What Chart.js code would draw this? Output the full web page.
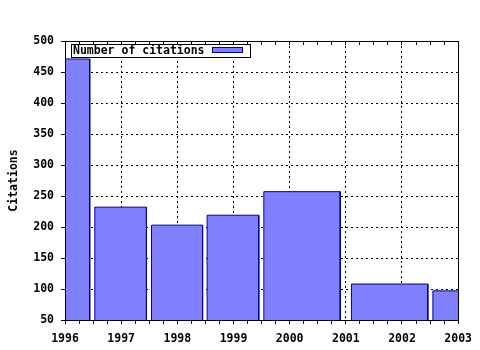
<!DOCTYPE html>
<html>
<head>
<meta charset="utf-8">
<script src="https://cdn.jsdelivr.net/npm/chart.js@4.4.0/dist/chart.umd.min.js"></script>
<style>
  html, body { margin: 0; padding: 0; background: #fff; }
</style>
</head>
<body>
<canvas id="mychart" width="480" height="350"></canvas>
<script>
// axis range and ticks
var years = [1996, 1997, 1998, 1999, 2000, 2001, 2002, 2003];
var yTicks = [50, 100, 150, 200, 250, 300, 350, 400, 450, 500];

// each bar: where it starts and ends on the year axis, and its height
var barStart = [1995.55, 1996.53, 1997.54, 1998.53, 1999.54, 2001.10, 2002.55];
var barEnd   = [1996.44, 1997.45, 1998.45, 1999.45, 2000.90, 2002.46, 2003.45];
var citations = [471, 232, 203, 219, 257, 108, 97];

var fillColor = '#8080ff';
var edgeColor = '#00008b';

Chart.defaults.font.family = "'DejaVu Sans Mono', monospace";
Chart.defaults.font.size = 11.5;
Chart.defaults.font.weight = 'bold';
Chart.defaults.color = '#000';

var yMin = yTicks[0];
var yMax = yTicks[yTicks.length - 1];

// bars as outlines along the baseline
var points = [];
for (var i in citations) {
  points.push({x: barStart[i], y: yMin});
  points.push({x: barStart[i], y: citations[i]});
  points.push({x: barEnd[i], y: citations[i]});
  points.push({x: barEnd[i], y: yMin});
}

function isMajor(v) {
  return Math.abs(v - Math.round(v)) < 1e-6;
}

// boxed legend in the top-left corner of the plot
var legendBox = {
  id: 'legendBox',
  afterDatasetsDraw: function(chart) {
    var ctx = chart.ctx;
    var a = chart.chartArea;
    var ds = chart.data.datasets[0];
    var x = a.left + 6, y = a.top + 3, w = 179, h = 13;
    ctx.save();
    ctx.fillStyle = '#fff';
    ctx.fillRect(x, y, w, h);
    ctx.strokeStyle = '#000';
    ctx.lineWidth = 1;
    ctx.strokeRect(x + 0.5, y + 0.5, w, h);
    ctx.font = "bold 11.5px 'DejaVu Sans Mono', monospace";
    ctx.fillStyle = '#000';
    ctx.textBaseline = 'middle';
    ctx.fillText(ds.label, x + 2, y + h / 2 + 1);
    ctx.fillStyle = ds.backgroundColor;
    ctx.fillRect(x + 141, y + 4, 30, 5);
    ctx.strokeStyle = ds.borderColor;
    ctx.strokeRect(x + 141.5, y + 3.5, 30, 5);
    ctx.restore();
  }
};

var ctx = document.getElementById('mychart');

var chart = new Chart(ctx, {
  type: 'line',
  data: {
    datasets: [{
      label: 'Number of citations',
      data: points,
      fill: 'start',
      backgroundColor: fillColor,
      borderColor: edgeColor,
      borderWidth: 1,
      pointRadius: 0,
      tension: 0,
      clip: {left: -1, right: 0, top: 0, bottom: 0},
      segment: {
        borderColor: function(c) {
          return (c.p0.parsed.y === yMin && c.p1.parsed.y === yMin) ? 'transparent' : edgeColor;
        }
      }
    }]
  },
  options: {
    responsive: false,
    animation: false,
    layout: { padding: 0 },
    plugins: {
      legend: { display: false },
      tooltip: { enabled: false }
    },
    scales: {
      x: {
        type: 'linear',
        position: 'bottom',
        min: years[0],
        max: years[years.length - 1],
        ticks: {
          stepSize: 0.25,
          autoSkip: false,
          maxRotation: 0,
          padding: 8,
          callback: function(v) { return isMajor(v) ? String(Math.round(v)) : ''; }
        },
        grid: {
          color: function(c) { return (c.tick && isMajor(c.tick.value)) ? '#000' : 'transparent'; },
          tickColor: '#000',
          tickLength: 4
        },
        border: { color: '#000', dash: [2, 3] },
        afterFit: function(s) { s.height = 30; }
      },
      xTop: {
        type: 'linear',
        position: 'top',
        min: years[0],
        max: years[years.length - 1],
        ticks: { display: false, stepSize: 0.25 },
        grid: { drawOnChartArea: false, color: '#000', tickLength: -4 },
        border: { color: '#000' },
        afterFit: function(s) { s.height = 41; }
      },
      y: {
        type: 'linear',
        position: 'left',
        min: yMin,
        max: yMax,
        ticks: { stepSize: yTicks[1] - yTicks[0], padding: 7 },
        grid: { color: '#000', tickLength: 4 },
        border: { color: '#000', dash: [2, 3] },
        title: {
          display: true,
          text: 'Citations',
          padding: { top: 7, bottom: 0 }
        },
        afterFit: function(s) { s.width = 65; }
      },
      yRight: {
        type: 'linear',
        position: 'right',
        min: yMin,
        max: yMax,
        ticks: { display: false },
        grid: { display: false },
        border: { color: '#000' },
        afterFit: function(s) { s.width = 21; }
      }
    }
  },
  plugins: [legendBox]
});
</script>
</body>
</html>
